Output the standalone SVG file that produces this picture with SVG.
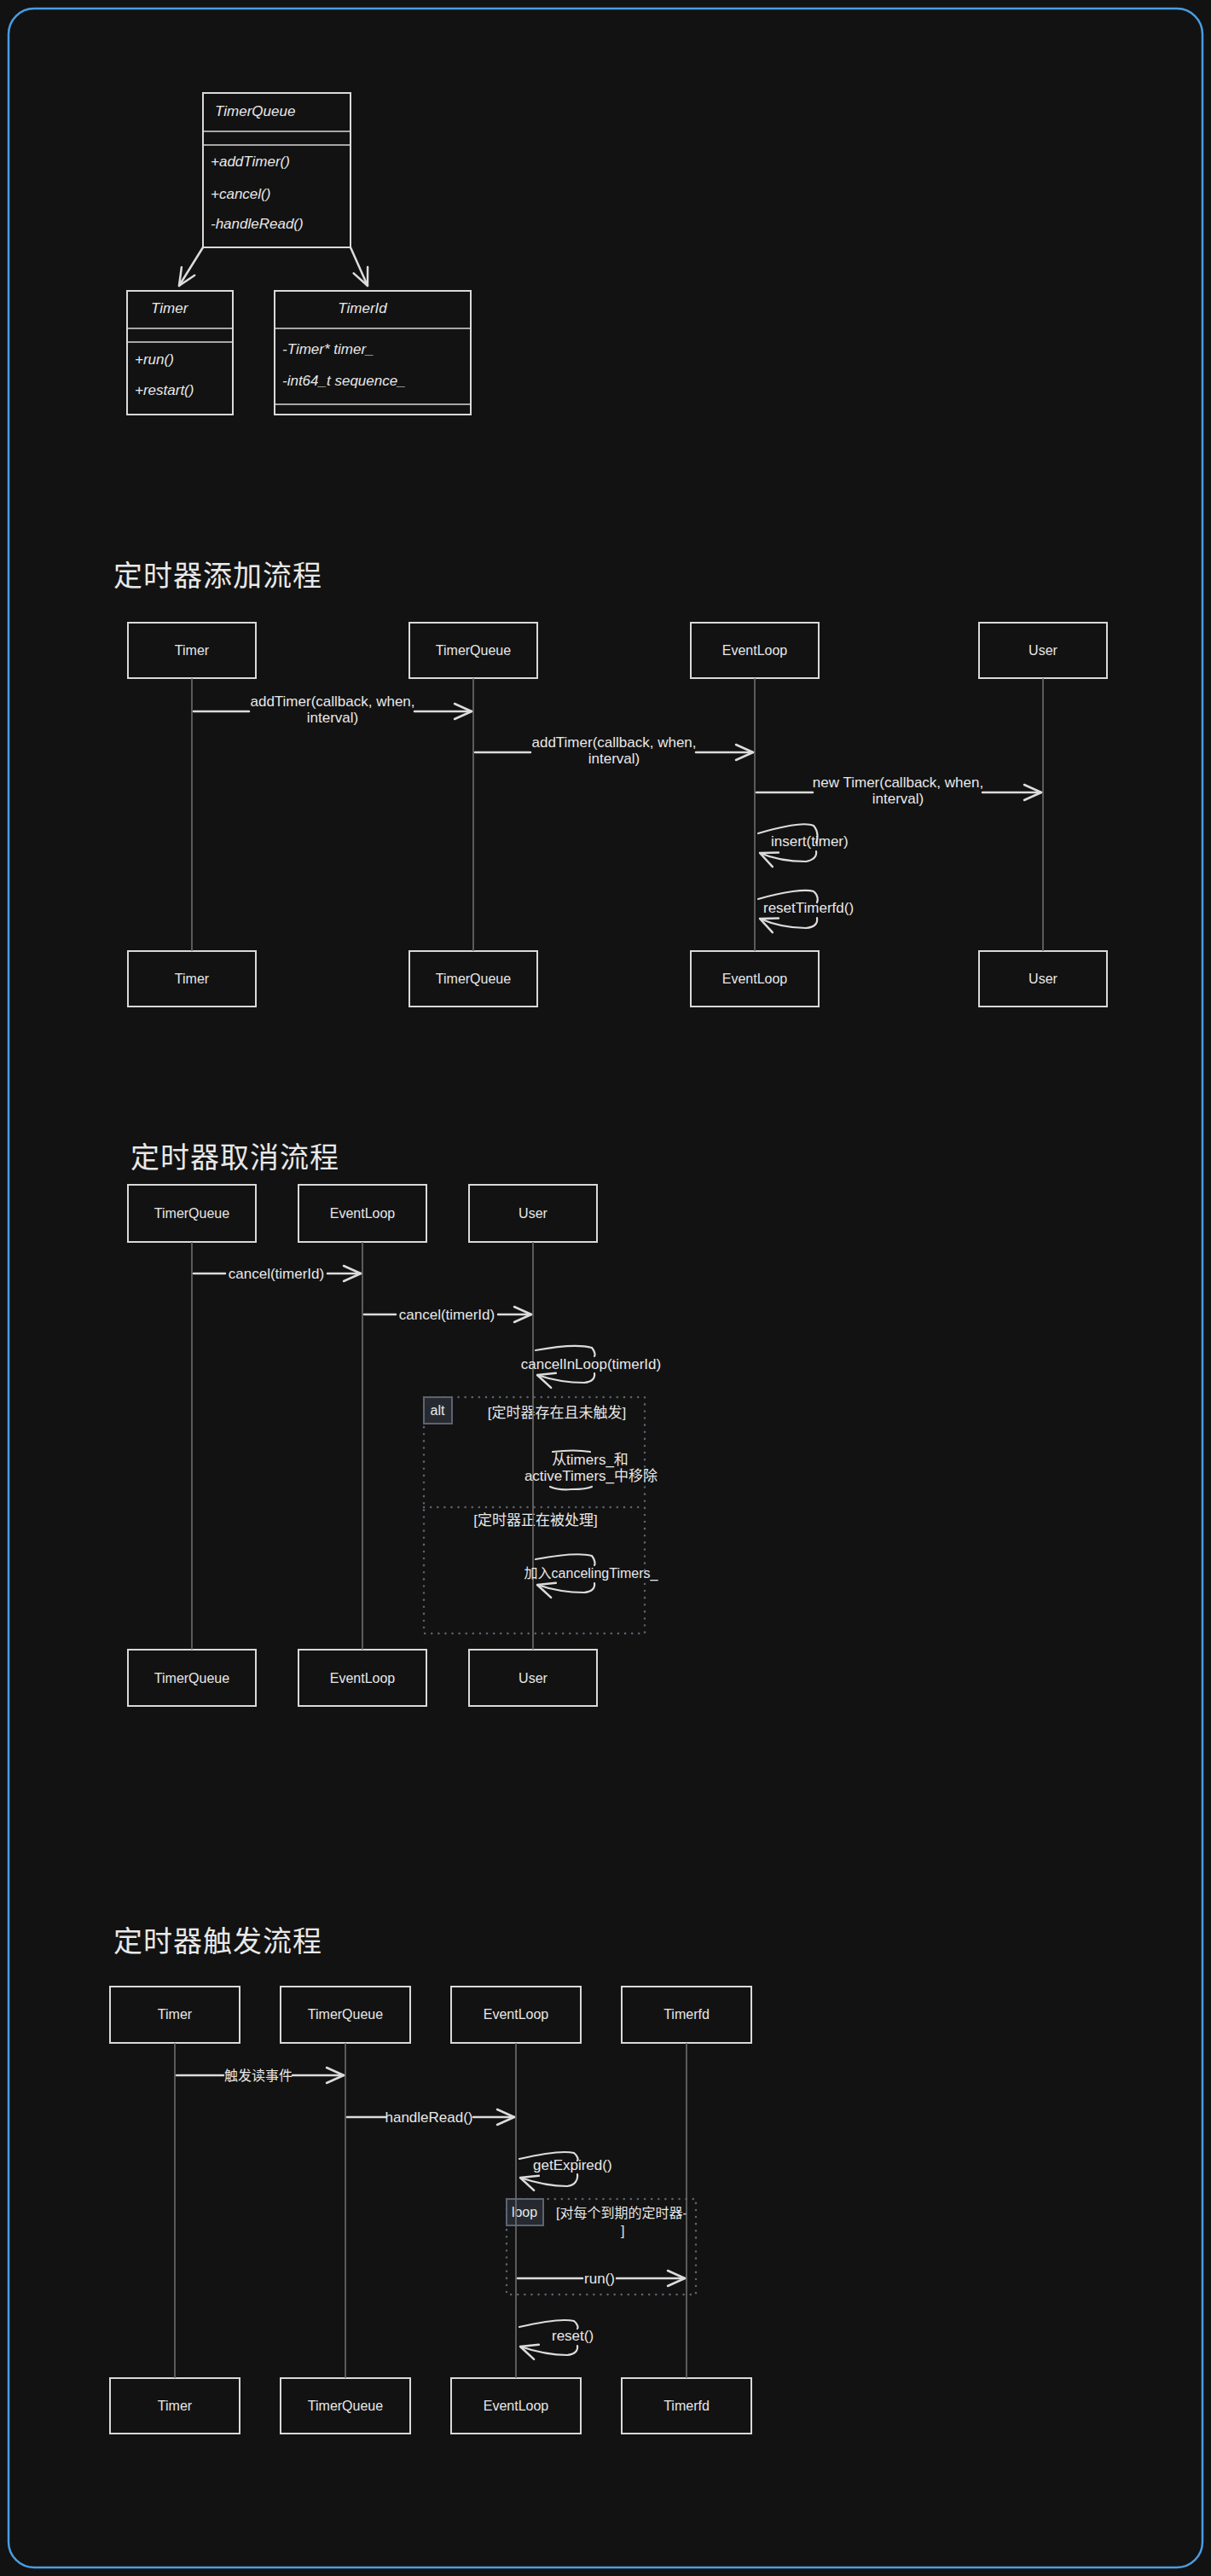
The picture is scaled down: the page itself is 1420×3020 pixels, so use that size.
<svg xmlns="http://www.w3.org/2000/svg" width="1420" height="3020" viewBox="0 0 1420 3020">
<defs>
<marker id="ah" viewBox="0 0 24 24" refX="22" refY="12" markerWidth="24" markerHeight="24" markerUnits="userSpaceOnUse" orient="auto">
<path d="M2,3 L22,12 L2,21" fill="none" stroke="#dcdcdc" stroke-width="2.5" stroke-linecap="round" stroke-linejoin="round"/>
</marker>
<style>
.bg{fill:#121212}
.frame{fill:none;stroke:#4a9de0;stroke-width:2.5}
.box{fill:#121212;stroke:#d9d9d9;stroke-width:2}
.sep{stroke:#d9d9d9;stroke-width:1.6}
.life{stroke:#6e6e6e;stroke-width:1.6}
.msg{fill:none;stroke:#dcdcdc;stroke-width:2.5;stroke-linecap:round}
.self{fill:none;stroke:#dcdcdc;stroke-width:2.2;stroke-linecap:round}
.t{font-family:"Liberation Sans","Noto Sans CJK SC",sans-serif;font-size:16px;fill:#e8e8e8}
.m{font-family:"Liberation Sans","Noto Sans CJK SC",sans-serif;font-size:17px;fill:#e8e8e8}
.c{text-anchor:middle}
.cls{font-family:"Liberation Sans","Noto Sans CJK SC",sans-serif;font-size:17px;fill:#e8e8e8;font-style:italic}
.title{font-family:"Noto Sans CJK SC",sans-serif;font-size:34px;fill:#e8e8e8;letter-spacing:1px}
.cjk{font-family:"Liberation Sans","Noto Sans CJK SC",sans-serif;font-size:16px;fill:#e8e8e8}
.dot{fill:none;stroke:#5c6370;stroke-width:2.5;stroke-dasharray:0.1 8;stroke-linecap:round}
.tag{fill:#262a30;stroke:#5c6370;stroke-width:2}
</style>
</defs>
<rect class="bg" x="0" y="0" width="1420" height="3020"/>
<rect class="frame" x="10" y="10" width="1400" height="3000" rx="30" ry="30"/>

<!-- Class diagram -->
<g id="cls-timerqueue">
<rect class="box" x="238" y="109" width="173" height="181"/>
<line class="sep" x1="238" y1="154" x2="411" y2="154"/>
<line class="sep" x1="238" y1="170" x2="411" y2="170"/>
<text class="cls" x="252" y="136">TimerQueue</text>
<text class="cls" x="247" y="195">+addTimer()</text>
<text class="cls" x="247" y="233">+cancel()</text>
<text class="cls" x="247" y="268">-handleRead()</text>
</g>
<g id="cls-timer">
<rect class="box" x="149" y="341" width="124" height="145"/>
<line class="sep" x1="149" y1="385" x2="273" y2="385"/>
<line class="sep" x1="149" y1="401" x2="273" y2="401"/>
<text class="cls" x="177" y="367">Timer</text>
<text class="cls" x="158" y="427">+run()</text>
<text class="cls" x="158" y="463">+restart()</text>
</g>
<g id="cls-timerid">
<rect class="box" x="322" y="341" width="230" height="145"/>
<line class="sep" x1="322" y1="385" x2="552" y2="385"/>
<line class="sep" x1="322" y1="474" x2="552" y2="474"/>
<text class="cls c" x="425" y="367">TimerId</text>
<text class="cls" x="331" y="415">-Timer* timer_</text>
<text class="cls" x="331" y="452">-int64_t sequence_</text>
</g>

<!-- Sequence 1 -->
<text class="title" x="133" y="687">定时器添加流程</text>
<g id="s1-timer">
<rect class="box" x="150" y="730" width="150" height="65"/><text class="t c" x="225" y="768">Timer</text>
<rect class="box" x="150" y="1115" width="150" height="65"/><text class="t c" x="225" y="1153">Timer</text>
</g>
<g id="s1-timerqueue">
<rect class="box" x="480" y="730" width="150" height="65"/><text class="t c" x="555" y="768">TimerQueue</text>
<rect class="box" x="480" y="1115" width="150" height="65"/><text class="t c" x="555" y="1153">TimerQueue</text>
</g>
<g id="s1-eventloop">
<rect class="box" x="810" y="730" width="150" height="65"/><text class="t c" x="885" y="768">EventLoop</text>
<rect class="box" x="810" y="1115" width="150" height="65"/><text class="t c" x="885" y="1153">EventLoop</text>
</g>
<g id="s1-user">
<rect class="box" x="1148" y="730" width="150" height="65"/><text class="t c" x="1223" y="768">User</text>
<rect class="box" x="1148" y="1115" width="150" height="65"/><text class="t c" x="1223" y="1153">User</text>
</g>

<!-- Sequence 2 -->
<text class="title" x="153" y="1369">定时器取消流程</text>
<g id="s2-timerqueue">
<rect class="box" x="150" y="1389" width="150" height="67"/><text class="t c" x="225" y="1428">TimerQueue</text>
<rect class="box" x="150" y="1934" width="150" height="66"/><text class="t c" x="225" y="1973">TimerQueue</text>
</g>
<g id="s2-eventloop">
<rect class="box" x="350" y="1389" width="150" height="67"/><text class="t c" x="425" y="1428">EventLoop</text>
<rect class="box" x="350" y="1934" width="150" height="66"/><text class="t c" x="425" y="1973">EventLoop</text>
</g>
<g id="s2-user">
<rect class="box" x="550" y="1389" width="150" height="67"/><text class="t c" x="625" y="1428">User</text>
<rect class="box" x="550" y="1934" width="150" height="66"/><text class="t c" x="625" y="1973">User</text>
</g>
<g id="s2-alt">
<rect class="dot" x="497" y="1638" width="259" height="277"/>
<line class="dot" x1="497" y1="1767" x2="756" y2="1767"/>
<rect class="tag" x="497" y="1638" width="33" height="31"/>
<text class="t c" x="513" y="1659">alt</text>
<text class="cjk c" x="653" y="1662" style="font-size:17px">[定时器存在且未触发]</text>
<text class="cjk c" x="628" y="1788" style="font-size:17px">[定时器正在被处理]</text>
</g>

<!-- Sequence 3 -->
<text class="title" x="133" y="2288">定时器触发流程</text>
<g id="s3-timer">
<rect class="box" x="129" y="2329" width="152" height="66"/><text class="t c" x="205" y="2367">Timer</text>
<rect class="box" x="129" y="2788" width="152" height="65"/><text class="t c" x="205" y="2826">Timer</text>
</g>
<g id="s3-timerqueue">
<rect class="box" x="329" y="2329" width="152" height="66"/><text class="t c" x="405" y="2367">TimerQueue</text>
<rect class="box" x="329" y="2788" width="152" height="65"/><text class="t c" x="405" y="2826">TimerQueue</text>
</g>
<g id="s3-eventloop">
<rect class="box" x="529" y="2329" width="152" height="66"/><text class="t c" x="605" y="2367">EventLoop</text>
<rect class="box" x="529" y="2788" width="152" height="65"/><text class="t c" x="605" y="2826">EventLoop</text>
</g>
<g id="s3-timerfd">
<rect class="box" x="729" y="2329" width="152" height="66"/><text class="t c" x="805" y="2367">Timerfd</text>
<rect class="box" x="729" y="2788" width="152" height="65"/><text class="t c" x="805" y="2826">Timerfd</text>
</g>
<g id="s3-loop">
<rect class="dot" x="594" y="2578" width="222" height="112"/>
<rect class="tag" x="594" y="2578" width="43" height="31"/>
<text class="t c" x="615" y="2599">loop</text>
<text class="cjk" x="652" y="2600">[对每个到期的定时器-</text>
<text class="cjk" x="728" y="2621">]</text>
</g>

<!-- Connectors -->
<g id="connectors">
<line class="msg" x1="238" y1="290" x2="210" y2="335" marker-end="url(#ah)"/>
<line class="msg" x1="411" y1="290" x2="431" y2="335" marker-end="url(#ah)"/>

<line class="life" x1="225" y1="795" x2="225" y2="1115"/>
<line class="life" x1="555" y1="795" x2="555" y2="1115"/>
<line class="life" x1="885" y1="795" x2="885" y2="1115"/>
<line class="life" x1="1223" y1="795" x2="1223" y2="1115"/>

<line class="msg" x1="227" y1="834" x2="292" y2="834"/>
<line class="msg" x1="486" y1="834" x2="553" y2="834" marker-end="url(#ah)"/>
<text class="m c" x="390" y="828">addTimer(callback, when,</text>
<text class="m c" x="390" y="847">interval)</text>

<line class="msg" x1="557" y1="882" x2="622" y2="882"/>
<line class="msg" x1="816" y1="882" x2="883" y2="882" marker-end="url(#ah)"/>
<text class="m c" x="720" y="876">addTimer(callback, when,</text>
<text class="m c" x="720" y="895">interval)</text>

<line class="msg" x1="887" y1="929" x2="953" y2="929"/>
<line class="msg" x1="1152" y1="929" x2="1221" y2="929" marker-end="url(#ah)"/>
<text class="m c" x="1053" y="923">new Timer(callback, when,</text>
<text class="m c" x="1053" y="942">interval)</text>

<path class="self" d="M889,977 C920,968 945,964 954,968 C960,975 959,984 957,988 M957,998 C958,1004 955,1008 945,1010 C925,1010 905,1006 891,1000" marker-end="url(#ah)"/>
<text class="m" x="904" y="992">insert(timer)</text>
<path class="self" d="M889,1054 C920,1045 945,1042 954,1045 C960,1050 959,1056 958,1058 M958,1076 C959,1082 956,1087 945,1088 C925,1088 905,1083 891,1077" marker-end="url(#ah)"/>
<text class="m" x="895" y="1070">resetTimerfd()</text>

<line class="life" x1="225" y1="1456" x2="225" y2="1934"/>
<line class="life" x1="425" y1="1456" x2="425" y2="1934"/>
<line class="life" x1="625" y1="1456" x2="625" y2="1934"/>

<line class="msg" x1="227" y1="1493" x2="264" y2="1493"/>
<line class="msg" x1="384" y1="1493" x2="423" y2="1493" marker-end="url(#ah)"/>
<text class="m c" x="324" y="1499">cancel(timerId)</text>
<line class="msg" x1="427" y1="1541" x2="464" y2="1541"/>
<line class="msg" x1="584" y1="1541" x2="623" y2="1541" marker-end="url(#ah)"/>
<text class="m c" x="524" y="1547">cancel(timerId)</text>

<path class="self" d="M628,1583 C655,1578 680,1576 694,1580 C698,1585 698,1589 697,1590 M697,1610 C698,1616 694,1620 685,1621 C665,1621 645,1617 630,1612" marker-end="url(#ah)"/>
<text class="m c" x="693" y="1605">cancelInLoop(timerId)</text>

<path class="self" d="M648,1702 C665,1700 680,1700 692,1702"/>
<path class="self" d="M645,1743 C652,1746 658,1747 670,1746 C682,1746 690,1745 694,1743"/>
<text class="cjk c" x="692" y="1717" style="font-size:17px">从timers_和</text>
<text class="cjk c" x="693" y="1736" style="font-size:17px">activeTimers_中移除</text>

<path class="self" d="M628,1828 C655,1823 680,1820 694,1824 C698,1829 698,1834 697,1835 M697,1856 C698,1862 694,1866 685,1867 C665,1867 645,1863 630,1858" marker-end="url(#ah)"/>
<text class="cjk c" x="693" y="1850">加入cancelingTimers_</text>

<line class="life" x1="205" y1="2395" x2="205" y2="2788"/>
<line class="life" x1="405" y1="2395" x2="405" y2="2788"/>
<line class="life" x1="605" y1="2395" x2="605" y2="2788"/>
<line class="life" x1="805" y1="2395" x2="805" y2="2788"/>

<line class="msg" x1="207" y1="2433" x2="262" y2="2433"/>
<line class="msg" x1="343" y1="2433" x2="403" y2="2433" marker-end="url(#ah)"/>
<text class="cjk c" x="303" y="2439">触发读事件</text>
<line class="msg" x1="407" y1="2482" x2="452" y2="2482"/>
<line class="msg" x1="555" y1="2482" x2="603" y2="2482" marker-end="url(#ah)"/>
<text class="m c" x="503" y="2488">handleRead()</text>

<path class="self" d="M609,2531 C635,2525 660,2521 673,2524 C678,2528 678,2532 677,2533 M677,2549 C678,2556 674,2562 665,2563 C645,2563 625,2558 610,2553" marker-end="url(#ah)"/>
<text class="m" x="625" y="2544">getExpired()</text>

<line class="msg" x1="607" y1="2671" x2="683" y2="2671"/>
<line class="msg" x1="723" y1="2671" x2="803" y2="2671" marker-end="url(#ah)"/>
<text class="m c" x="703" y="2677">run()</text>

<path class="self" d="M609,2728 C635,2722 660,2718 673,2721 C678,2725 678,2729 677,2730 M677,2750 C678,2756 674,2760 665,2761 C645,2761 625,2756 610,2751" marker-end="url(#ah)"/>
<text class="m" x="647" y="2744">reset()</text>
</g>
</svg>
